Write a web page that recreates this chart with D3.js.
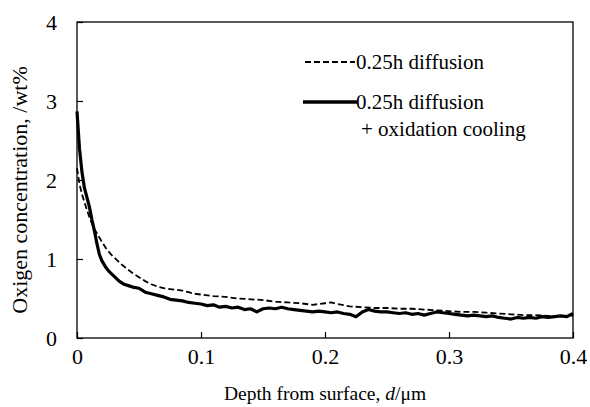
<!DOCTYPE html>
<html><head><meta charset="utf-8">
<script src="https://cdn.jsdelivr.net/npm/d3@7"></script>
<style>body{margin:0;background:#fff}</style>
</head><body><svg id="c" width="590" height="407"></svg>
<script>
const xTicks = [0, 0.1, 0.2, 0.3, 0.4];
const yTicks = [0, 1, 2, 3, 4];
const seriesNames = ["0.25h diffusion", "0.25h diffusion", "+ oxidation cooling"];
const depthSolid = [0,0.002,0.004,0.006,0.008,0.010,0.012,0.014,0.016,0.018,0.020,0.023,0.026,0.030,0.034,0.038,0.042,0.046,0.050,0.055,0.060,0.065,0.070,0.075,0.080,0.085,0.090,0.095,0.100,0.105,0.110,0.115,0.120,0.125,0.130,0.135,0.140,0.145,0.150,0.155,0.160,0.165,0.170,0.175,0.180,0.185,0.190,0.195,0.200,0.205,0.210,0.215,0.220,0.225,0.230,0.235,0.240,0.245,0.250,0.255,0.260,0.265,0.270,0.275,0.280,0.285,0.290,0.295,0.300,0.305,0.310,0.315,0.320,0.325,0.330,0.335,0.340,0.345,0.350,0.355,0.360,0.365,0.370,0.375,0.380,0.385,0.390,0.395,0.400];
const concSolid = [2.87,2.4,2.1,1.9,1.78,1.66,1.5,1.36,1.2,1.06,0.98,0.9,0.84,0.78,0.72,0.68,0.66,0.64,0.63,0.58,0.56,0.54,0.52,0.49,0.48,0.47,0.45,0.44,0.43,0.41,0.42,0.39,0.40,0.38,0.39,0.36,0.37,0.33,0.37,0.38,0.37,0.39,0.37,0.36,0.35,0.34,0.33,0.34,0.33,0.32,0.33,0.31,0.30,0.27,0.33,0.36,0.34,0.33,0.33,0.32,0.31,0.32,0.30,0.31,0.29,0.31,0.33,0.32,0.31,0.30,0.29,0.28,0.29,0.28,0.27,0.28,0.26,0.25,0.24,0.26,0.25,0.26,0.25,0.27,0.26,0.27,0.28,0.27,0.31];
const depthDashed = [0,0.002,0.004,0.006,0.008,0.010,0.012,0.014,0.017,0.020,0.024,0.028,0.032,0.036,0.040,0.045,0.050,0.055,0.060,0.065,0.070,0.075,0.080,0.085,0.090,0.095,0.100,0.110,0.120,0.130,0.140,0.150,0.160,0.170,0.180,0.190,0.200,0.205,0.210,0.220,0.230,0.240,0.250,0.260,0.270,0.280,0.290,0.300,0.310,0.320,0.330,0.340,0.350,0.360,0.370,0.380,0.390,0.400];
const concDashed = [2.15,1.95,1.82,1.72,1.62,1.53,1.45,1.38,1.30,1.22,1.12,1.05,0.99,0.93,0.88,0.82,0.77,0.72,0.68,0.65,0.63,0.62,0.61,0.60,0.58,0.56,0.55,0.53,0.52,0.50,0.49,0.48,0.46,0.45,0.44,0.42,0.44,0.45,0.43,0.40,0.39,0.38,0.38,0.37,0.37,0.36,0.35,0.34,0.33,0.33,0.32,0.31,0.30,0.29,0.29,0.28,0.28,0.28];

const svg = d3.select("#c");
const L = 77, R = 573, T = 22, B = 338;
const x = d3.scaleLinear().domain([0, 0.4]).range([L, R]);
const y = d3.scaleLinear().domain([0, 4]).range([B, T]);
const font = "'Liberation Serif','Times New Roman',serif";

svg.append("rect").attr("x", L).attr("y", T).attr("width", R - L).attr("height", B - T)
  .attr("fill", "none").attr("stroke", "#000").attr("stroke-width", 1.3);

const xa = svg.append("g").attr("transform", `translate(0,${B})`)
  .call(d3.axisBottom(x).tickValues(xTicks).tickSizeInner(-6).tickSizeOuter(0).tickPadding(10)
    .tickFormat(d => d === 0 ? "0" : d3.format(".1f")(d)));
xa.select(".domain").remove();
xa.selectAll("line").attr("stroke", "#000").attr("stroke-width", 1.2);
xa.selectAll("text").attr("font-family", font).attr("font-size", 22).attr("fill", "#000");

const ya = svg.append("g").attr("transform", `translate(${L},0)`)
  .call(d3.axisLeft(y).tickValues(yTicks).tickSizeInner(-6).tickSizeOuter(0).tickPadding(20)
    .tickFormat(d3.format("d")));
ya.select(".domain").remove();
ya.selectAll("line").attr("stroke", "#000").attr("stroke-width", 1.2);
ya.selectAll("text").attr("font-family", font).attr("font-size", 22).attr("fill", "#000");

const line = d3.line().x(d => x(d[0])).y(d => y(d[1]));
svg.append("path").datum(depthDashed.map((d, i) => [d, concDashed[i]]))
  .attr("d", line).attr("fill", "none").attr("stroke", "#000").attr("stroke-width", 1.8)
  .attr("stroke-dasharray", "6,3");
svg.append("path").datum(depthSolid.map((d, i) => [d, concSolid[i]]))
  .attr("d", line).attr("fill", "none").attr("stroke", "#000").attr("stroke-width", 3.2)
  .attr("stroke-linejoin", "round");

// legend
svg.append("line").attr("x1", 305).attr("x2", 355).attr("y1", 62).attr("y2", 62)
  .attr("stroke", "#000").attr("stroke-width", 1.8).attr("stroke-dasharray", "6,3");
svg.append("text").attr("x", 356).attr("y", 69).text(seriesNames[0])
  .attr("font-family", font).attr("font-size", 21);
svg.append("line").attr("x1", 303).attr("x2", 357).attr("y1", 102).attr("y2", 102)
  .attr("stroke", "#000").attr("stroke-width", 3.5);
svg.append("text").attr("x", 356).attr("y", 109).text(seriesNames[1])
  .attr("font-family", font).attr("font-size", 21);
svg.append("text").attr("x", 361).attr("y", 136).text(seriesNames[2])
  .attr("font-family", font).attr("font-size", 21);

svg.append("text").attr("x", 325).attr("y", 400).attr("text-anchor", "middle")
  .attr("font-family", font).attr("font-size", 19.5)
  .html("Depth from surface, <tspan font-style='italic'>d</tspan>/μm");
svg.append("text").attr("transform", "translate(27,190) rotate(-90)").attr("text-anchor", "middle")
  .attr("font-family", font).attr("font-size", 22)
  .text("Oxigen concentration, /wt%");
</script></body></html>
